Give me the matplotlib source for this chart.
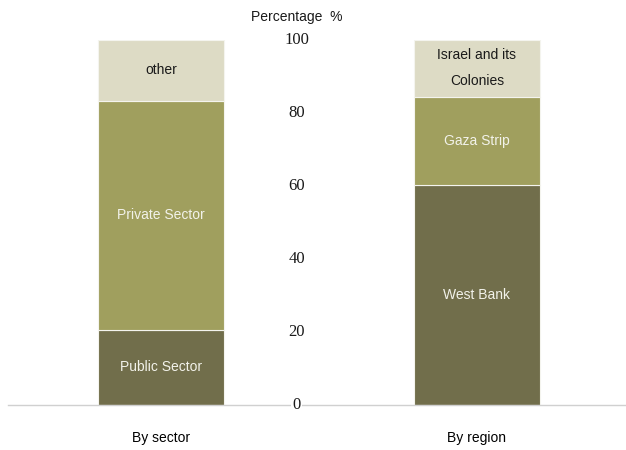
import matplotlib
matplotlib.use("Agg")
import matplotlib.pyplot as plt
from matplotlib import font_manager
import matplotlib.transforms as mtransforms

# Data
groups = ["By sector", "By region"]
segment_labels = [
    ["Public Sector", "Private Sector", "other"],
    ["West Bank", "Gaza Strip", "Israel and its\nColonies"],
]
segment_values = [
    [20.6, 62.7, 16.7],
    [60.1, 24.1, 15.8],
]
y_ticks = [0, 20, 40, 60, 80, 100]
axis_title = "Percentage  %"

colors = ["#716E4B", "#A09F5E", "#DDDBC5"]
text_colors = ["#F2F2EA", "#F2F2EA", "#1A1A1A"]

names = {f.name for f in font_manager.fontManager.ttflist}
sans = "Liberation Sans Narrow" if "Liberation Sans Narrow" in names else "Liberation Sans"
serif = "Liberation Serif" if "Liberation Serif" in names else "DejaVu Serif"

fig = plt.figure(figsize=(6.26, 4.5), dpi=100)
ax = fig.add_axes([8 / 626, 45 / 450, 618 / 626, 365.5 / 450])

bar_width = 0.4
for i, (labels, vals) in enumerate(zip(segment_labels, segment_values)):
    bottom = 0
    for j, (lab, v) in enumerate(zip(labels, vals)):
        ax.bar(i, v, width=bar_width, bottom=bottom, color=colors[j],
               edgecolor="#F4F4EE", linewidth=0.8, zorder=2)
        ax.text(i, bottom + v / 2, lab, ha="center", va="center",
                color=text_colors[j], fontsize=10, family=sans,
                linespacing=2.1, zorder=3)
        bottom += v

ax.set_xlim(-0.484, 1.472)
ax.set_ylim(0, 100)

for s in ["top", "right", "left"]:
    ax.spines[s].set_visible(False)
ax.spines["bottom"].set_color("#D0D0D0")
ax.spines["bottom"].set_linewidth(1.0)

ax.set_yticks([])
ax.set_xticks(range(len(groups)))
ax.set_xticklabels(groups, family=sans, fontsize=10)
ax.tick_params(axis="x", length=0, pad=19)

# Value scale drawn between the two bars
tick_x = 0.43
for t in y_ticks:
    ax.text(tick_x, t, str(t), ha="center", va="center", fontsize=12,
            family=serif, color="#1A1A1A", zorder=4,
            bbox=dict(facecolor="white", edgecolor="none", pad=1.0) if t == 0 else None)

trans = mtransforms.blended_transform_factory(ax.transData, ax.transAxes)
ax.text(tick_x, 1.0615, axis_title, transform=trans,
        ha="center", va="center", fontsize=10, family=sans, color="#1A1A1A")

fig.savefig("out.png", dpi=100)
